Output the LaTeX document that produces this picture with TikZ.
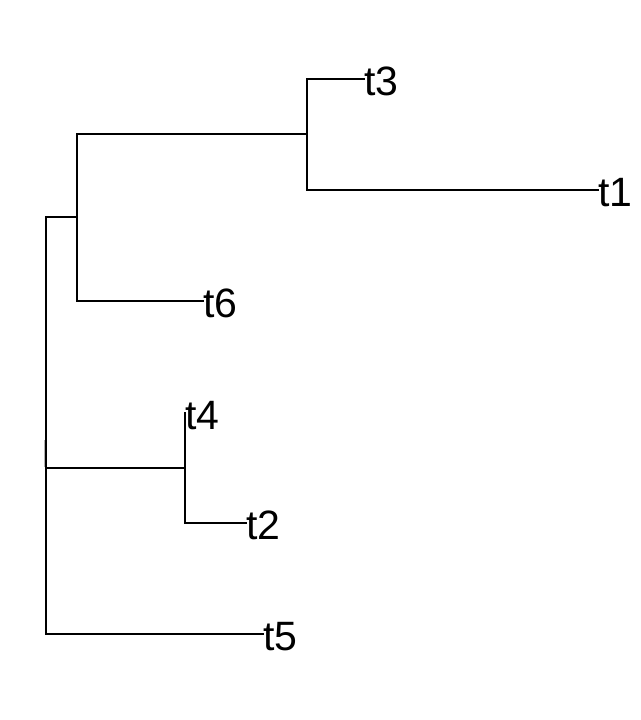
\documentclass[tikz,border=0pt]{standalone}
\usepackage{fontspec}
\setmainfont{Liberation Sans}
\tikzset{
  edge/.style={line width=2pt, black, line cap=rect},
  tip/.style={anchor=base west, inner sep=0pt, font=\fontsize{41}{41}\selectfont},
}
\begin{document}
\begin{tikzpicture}[x=1pt,y=-1pt]
\useasboundingbox (0,0) rectangle (640,720);
% internal nodes
\coordinate (root) at (46,217);
\coordinate (rootb) at (46,634);
\coordinate (nA) at (77,217);
\coordinate (nAt) at (77,134);
\coordinate (nAb) at (77,301);
\coordinate (nB) at (307,134);
\coordinate (nBt) at (307,79);
\coordinate (nBb) at (307,190);
\coordinate (nC0) at (46,468);
\coordinate (nC) at (185,468);
\coordinate (nCt) at (185,413);
\coordinate (nCb) at (185,523);
% tip ends
\coordinate (e3) at (364,79);
\coordinate (e1) at (598,190);
\coordinate (e6) at (203,301);
\coordinate (e2) at (246,523);
\coordinate (e5) at (263,634);
% labels
\node[tip] (t3) at ([yshift=-16.5pt]e3) {t3};
\node[tip] (t1) at ([yshift=-16.5pt]e1) {t1};
\node[tip] (t6) at ([yshift=-16.5pt]e6) {t6};
\node[tip] (t4) at ([yshift=-16.5pt]nCt) {t4};
\node[tip] (t2) at ([yshift=-16.5pt]e2) {t2};
\node[tip] (t5) at ([yshift=-16.5pt]e5) {t5};
% edges
\draw[edge] (root) -- (rootb);
\draw[edge] (root) -- (nA);
\draw[edge] (nAt) -- (nAb);
\draw[edge] (nAt) -- (nB);
\draw[edge] (nBt) -- (nBb);
\draw[edge] (nBt) -- (e3);
\draw[edge] (nBb) -- (e1);
\draw[edge] (nAb) -- (e6);
\draw[edge] (nC0) -- (nC);
\draw[edge] (nCt) -- (nCb);
\draw[edge] (nCb) -- (e2);
\draw[edge] (rootb) -- (e5);
\coordinate (rt) at (44,440);
\coordinate (rb) at (44,467);
\draw[gray!60, line width=1pt] (rt) -- (rb);
\end{tikzpicture}
\end{document}
